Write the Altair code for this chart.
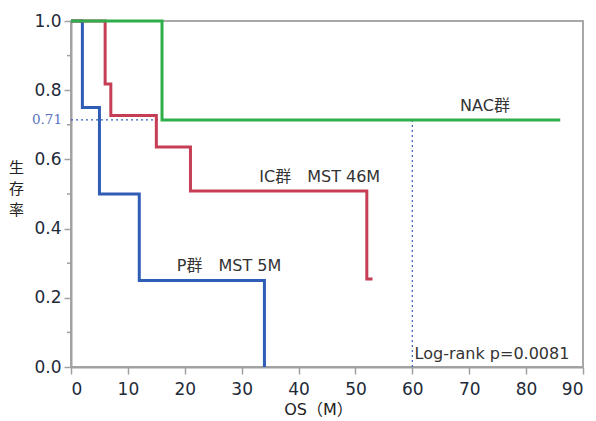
import altair as alt
import pandas as pd

# Kaplan-Meier step data (months, survival)
p_time = [0, 2, 5, 12, 34]
p_surv = [1.0, 0.75, 0.5, 0.25, 0.0]
ic_time = [0, 6, 7, 15, 21, 52, 53]
ic_surv = [1.0, 0.818, 0.727, 0.636, 0.509, 0.2545, 0.2545]
nac_time = [0, 16, 86]
nac_surv = [1.0, 0.714, 0.714]

groups = ["P群", "IC群", "NAC群"]
colors = ["#2f5db5", "#c63e55", "#2fae4c"]

y_major = [0.0, 0.2, 0.4, 0.6, 0.8, 1.0]
y_minor = [0.1, 0.3, 0.5, 0.7, 0.9]
x_ticks = [0, 10, 20, 30, 40, 50, 60, 70, 80, 90]

ann_text = ["NAC群", "IC群　MST 46M", "P群　MST 5M", "Log-rank  p=0.0081"]
ann_x = [68.4, 33.1, 18.6, 60.4]
ann_y = [0.755, 0.55, 0.292, 0.038]

ref_value = 0.714
ref_time = 60
ref_start = 16

FONT = "DejaVu Sans, Noto Sans CJK JP"
CJK = "Noto Sans CJK JP"

rows = []
for g, ts, ss in [("P群", p_time, p_surv), ("IC群", ic_time, ic_surv), ("NAC群", nac_time, nac_surv)]:
    for i, (t, s) in enumerate(zip(ts, ss)):
        rows.append({"group": g, "t": t, "s": s, "order": i})
km = pd.DataFrame(rows)

xscale = alt.Scale(domain=[0, 90], nice=False, zero=False)
yscale = alt.Scale(domain=[0, 1], nice=False)

base_x = alt.X("t:Q", scale=xscale,
               axis=alt.Axis(values=x_ticks, title="OS（M）", format="d",
                             labelPadding=7, titlePadding=4, titleFontSize=16, titleX=247))
base_y = alt.Y("s:Q", scale=yscale,
               axis=alt.Axis(values=y_major, format=".1f", title=["生", "存", "率"],
                             titleFont=CJK, titleFontSize=15,
                             titleAngle=0, titleAlign="center", titleBaseline="top",
                             titleX=-55, titleY=139, titleLineHeight=21, labelPadding=3))

lines = alt.Chart(km).mark_line(interpolate="step-after", strokeWidth=3).encode(
    x=base_x,
    y=base_y,
    color=alt.Color("group:N", scale=alt.Scale(domain=groups, range=colors), legend=None),
    order="order:Q",
)

hline = alt.Chart(pd.DataFrame({"x": [0], "x2": [ref_start], "y": [ref_value]})).mark_rule(
    color="#3a5fc0", strokeDash=[2, 3], strokeWidth=1.2
).encode(x=alt.X("x:Q", scale=xscale), x2="x2:Q", y=alt.Y("y:Q", scale=yscale))

vline = alt.Chart(pd.DataFrame({"x": [ref_time], "y": [0], "y2": [ref_value]})).mark_rule(
    color="#3a5fc0", strokeDash=[2, 3], strokeWidth=1.2
).encode(x=alt.X("x:Q", scale=xscale), y=alt.Y("y:Q", scale=yscale), y2="y2:Q")

minor = alt.Chart(pd.DataFrame({"y": y_minor})).mark_rule(color="#a0a0a0", strokeWidth=1.5).encode(
    y=alt.Y("y:Q", scale=yscale), x=alt.value(-4), x2=alt.value(0)
)

ref_label = alt.Chart(pd.DataFrame({"y": [ref_value], "t": ["0.71"]})).mark_text(
    align="right", baseline="middle", font="DejaVu Serif", fontSize=13.5, color="#5b75c0"
).encode(y=alt.Y("y:Q", scale=yscale), x=alt.value(-9), text="t:N")

ann = alt.Chart(pd.DataFrame({"x": ann_x, "y": ann_y, "t": ann_text})).mark_text(
    align="left", baseline="middle", font=FONT, fontSize=16, color="#333333"
).encode(x=alt.X("x:Q", scale=xscale), y=alt.Y("y:Q", scale=yscale), text="t:N")

chart = alt.layer(hline, vline, lines, minor, ref_label, ann).properties(
    width=512, height=346,
    autosize=alt.AutoSizeParams(type="none"),
    padding={"left": 63, "top": 13, "right": 5, "bottom": 50},
).configure_view(
    stroke="#a8a8a8", strokeWidth=2
).configure_axis(
    grid=False, domainColor="#a0a0a0", domainWidth=2, tickColor="#a0a0a0", tickWidth=1.5,
    tickSize=7, labelFont=FONT, labelFontSize=17, labelColor="#1e2a3a",
    titleFont=FONT, titleFontSize=17, titleColor="#222222", titleFontWeight="normal",
)

chart.save("out.html", embed_options={"renderer": "svg", "actions": False})
